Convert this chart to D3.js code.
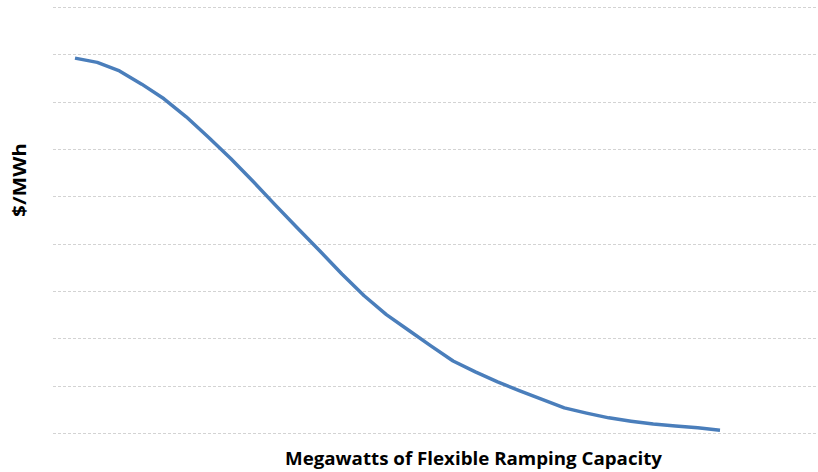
<!DOCTYPE html>
<html>
<head>
<meta charset="utf-8">
<script src="https://cdn.jsdelivr.net/npm/d3@7"></script>
<style>
  html, body { margin: 0; padding: 0; background: #fff; }
  svg { display: block; }
</style>
</head>
<body>
<svg id="chart" width="818" height="472"></svg>
<script>
// Data (axes carry no tick labels)
const points = [0,1,2,3,4,5,6,7,8,9,10,11,12,13,14,15,16,17,18,19,20,21,22,23,24,25,26,27,28,29];
const price = [79.2,78.3,76.5,73.7,70.6,66.8,62.5,58.0,53.2,48.2,43.3,38.5,33.6,29.0,25.0,21.7,18.4,15.2,12.9,10.8,8.9,7.1,5.3,4.2,3.2,2.5,1.9,1.5,1.1,0.6];
const gridValues = [0,10,20,30,40,50,60,70,80,90];
const xTitle = "Megawatts of Flexible Ramping Capacity";
const yTitle = "$/MWh";

const svg = d3.select("#chart");
const gridLeft = 53, gridRight = 818;

const x = d3.scaleLinear().domain([0, 29]).range([75, 720]);
const y = d3.scaleLinear().domain([0, 90]).range([433, 7]);

// Gridlines via axis
const yAxis = d3.axisLeft(y).tickValues(gridValues).tickSize(-(gridRight - gridLeft)).tickFormat("");
const g = svg.append("g").attr("transform", `translate(${gridLeft},0)`).call(yAxis);
g.select(".domain").remove();
g.selectAll(".tick line")
  .attr("stroke", "#d3d3d3")
  .attr("stroke-width", 1)
  .attr("stroke-dasharray", "3,2")
  .attr("shape-rendering", "crispEdges");

// Line
const line = d3.line().x((d, i) => x(points[i])).y(d => y(d));
svg.append("path")
  .datum(price)
  .attr("fill", "none")
  .attr("stroke", "#4a7ebb")
  .attr("stroke-width", 3.5)
  .attr("stroke-linejoin", "round")
  .attr("stroke-linecap", "butt")
  .attr("d", line);

// Titles
svg.append("text")
  .attr("x", 473.5).attr("y", 465)
  .attr("text-anchor", "middle")
  .attr("font-family", "'Open Sans', Lato, sans-serif")
  .attr("font-weight", "bold")
  .attr("font-size", 17)
  .attr("textLength", 377)
  .attr("lengthAdjust", "spacingAndGlyphs")
  .attr("fill", "#000")
  .text(xTitle);

svg.append("text")
  .attr("transform", "translate(26,180) rotate(-90)")
  .attr("text-anchor", "middle")
  .attr("font-family", "'Open Sans', Lato, sans-serif")
  .attr("font-weight", "bold")
  .attr("font-size", 17)
  .attr("textLength", 74)
  .attr("lengthAdjust", "spacingAndGlyphs")
  .attr("fill", "#000")
  .text(yTitle);
</script>
</body>
</html>
